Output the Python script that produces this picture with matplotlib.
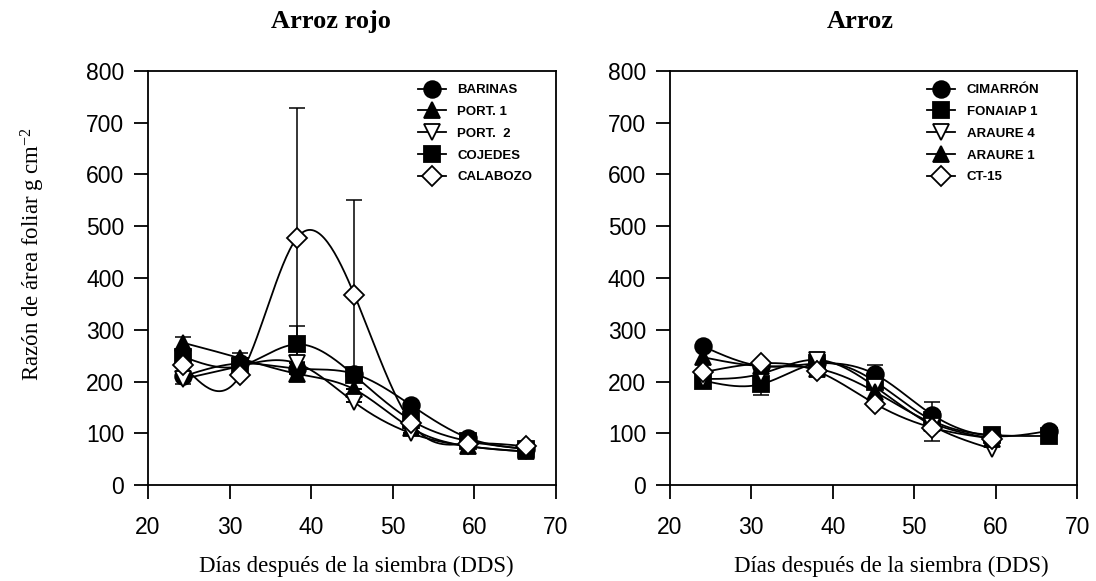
import numpy as np
import matplotlib.pyplot as plt

plt.rcParams['font.family'] = ['Liberation Sans', 'DejaVu Sans']
plt.rcParams['mathtext.fontset'] = 'custom'
plt.rcParams['mathtext.rm'] = 'Liberation Serif'
plt.rcParams['mathtext.it'] = 'Liberation Serif'

# dias despues de la siembra
dds = [24.3, 31.3, 38.3, 45.3, 52.3, 59.3, 66.3]

# Arroz rojo
barinas = [210, 235, 225, 215, 154, 91, 70]
port1 = [275, 245, 215, 185, 110, 75, 65]
port2 = [205, 230, 235, 160, 100, 75, 65]
cojedes = [248, 230, 272, 212, 125, 85, 70]
calabozo = [232, 212, 478, 368, 120, 80, 75]
err_port1 = [12, 10, 0, 0, 0, 0, 0]
err_port2 = [10, 0, 0, 0, 0, 0, 0]
err_cojedes = [0, 0, 35, 0, 0, 0, 0]
err_calabozo = [0, 0, 250, 183, 0, 0, 0]

# Arroz
dds_r = [24.1, 31.2, 38.1, 45.2, 52.2, 59.5, 66.5]
cimarron = [268, 230, 235, 214, 136, 95, 105]
fonaiap1 = [202, 195, 235, 200, 125, 97, 95]
araure4 = [205, 215, 242, 190, 115, 70]
araure1 = [247, 230, 225, 180, 120, 90]
ct15 = [218, 235, 220, 157, 111, 90]
err_cimarron = [0, 0, 0, 18, 25, 0, 0]
err_fonaiap1 = [0, 20, 0, 0, 0, 0, 0]
err_ct15 = [0, 0, 0, 0, 25, 0]


def spline(x, y, n=200):
    # spline cubica natural, solo para dibujar la curva suave
    x = np.asarray(x, float)
    y = np.asarray(y, float)
    m = len(x)
    h = np.diff(x)
    A = np.zeros((m, m))
    b = np.zeros(m)
    A[0, 0] = A[-1, -1] = 1
    for i in range(1, m - 1):
        A[i, i - 1] = h[i - 1]
        A[i, i] = 2 * (h[i - 1] + h[i])
        A[i, i + 1] = h[i]
        b[i] = 6 * ((y[i + 1] - y[i]) / h[i] - (y[i] - y[i - 1]) / h[i - 1])
    M = np.linalg.solve(A, b)
    xs = np.linspace(x[0], x[-1], n)
    k = np.clip(np.searchsorted(x, xs) - 1, 0, m - 2)
    t = xs - x[k]
    hk = h[k]
    a = (M[k + 1] - M[k]) / (6 * hk)
    bb = M[k] / 2
    c = (y[k + 1] - y[k]) / hk - hk * (2 * M[k] + M[k + 1]) / 6
    return xs, y[k] + c * t + bb * t**2 + a * t**3


fig = plt.figure(figsize=(10.96, 5.81), dpi=100)
ax1 = fig.add_axes([0.135, 0.165, 0.372, 0.713])
ax2 = fig.add_axes([0.611, 0.165, 0.372, 0.713])

left = [
    ('BARINAS', barinas, 'o', 'black', None),
    ('PORT. 1', port1, '^', 'black', err_port1),
    ('PORT.  2', port2, 'v', 'white', err_port2),
    ('COJEDES', cojedes, 's', 'black', err_cojedes),
    ('CALABOZO', calabozo, 'D', 'white', err_calabozo),
]
right = [
    ('CIMARRÓN', cimarron, 'o', 'black', err_cimarron),
    ('FONAIAP 1', fonaiap1, 's', 'black', err_fonaiap1),
    ('ARAURE 4', araure4, 'v', 'white', None),
    ('ARAURE 1', araure1, '^', 'black', None),
    ('CT-15', ct15, 'D', 'white', err_ct15),
]
sizes = {'o': 12, 's': 11, '^': 12, 'v': 12, 'D': 10.5}


def draw(ax, xs_all, series, title, tx, lx, legx):
    for name, vals, mk, fc, err in series:
        xv = xs_all[:len(vals)]
        sx, sy = spline(xv, vals)
        ax.plot(sx, sy, color='black', lw=1.3, zorder=2)
        if err is not None:
            ax.errorbar(xv, vals, yerr=err, fmt='none', ecolor='black',
                        elinewidth=1.1, capsize=6, capthick=1.1, zorder=2)
        ms = sizes[mk]
        ax.plot(xv, vals, ls='none', marker=mk, ms=ms, mfc=fc, mec='black',
                mew=1.3, zorder=3)
        ax.plot([], [], color='black', lw=1.3, marker=mk, ms=ms, mfc=fc,
                mec='black', mew=1.3, label=name)
    ax.set_xlim(20, 70)
    ax.set_ylim(0, 800)
    ax.set_xticks([20, 30, 40, 50, 60, 70])
    ax.set_yticks(range(0, 801, 100))
    ax.tick_params(labelsize=16.5, direction='out', length=10, width=1.3)
    ax.tick_params(axis='x', pad=12)
    ax.tick_params(axis='y', pad=7)
    for s in ax.spines.values():
        s.set_linewidth(1.3)
    ax.text(lx, -0.197, 'Días después de la siembra (DDS)', transform=ax.transAxes,
            family='Liberation Serif', fontsize=16.5, ha='center', va='center')
    ax.text(tx, 1.12, title, transform=ax.transAxes, family='Liberation Serif',
            fontsize=19, fontweight='bold', ha='center', va='center')
    ax.legend(loc='upper left', bbox_to_anchor=(legx, 0.968), frameon=False,
              handlelength=2.1, handletextpad=0.9, labelspacing=0.72,
              borderpad=0, borderaxespad=0,
              prop={'size': 9.5, 'weight': 'bold'})


draw(ax1, dds, left, 'Arroz rojo', 0.45, 0.51, 0.662)
draw(ax2, dds_r, right, 'Arroz', 0.467, 0.543, 0.631)
fig.text(33 / 1096, 1 - 254 / 581, 'Razón de área foliar g cm$^{{-}2}$',
         family='Liberation Serif', fontsize=16.5, rotation=90,
         ha='center', va='center')

plt.savefig('out.png', dpi=100)
